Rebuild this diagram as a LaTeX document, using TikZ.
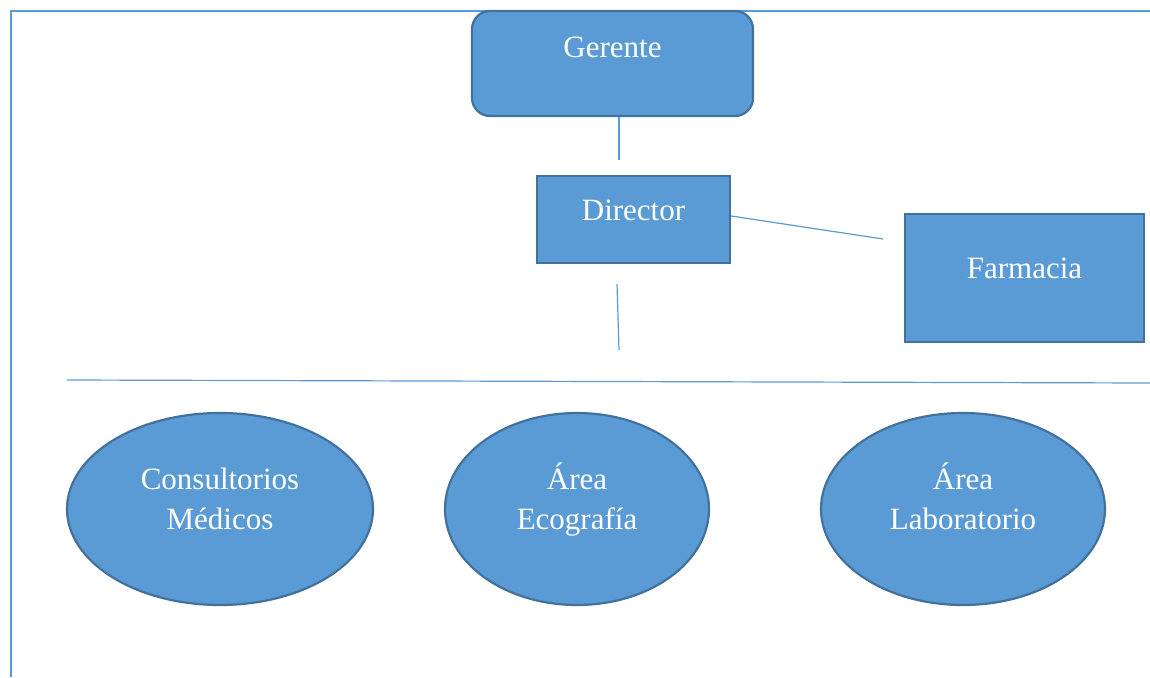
\documentclass[tikz,border=0pt]{standalone}
\usepackage{fontspec}
\setmainfont{Liberation Serif}
\usetikzlibrary{positioning, shapes.geometric, calc}
\definecolor{azul}{HTML}{5B9BD5}
\definecolor{azulOsc}{HTML}{41719C}

\begin{document}
\begin{tikzpicture}[x=1pt, y=-1pt,
    caja/.style={draw=azulOsc, fill=azul, line width=2.2pt, text=white,
                 font=\fontsize{31}{40}\selectfont, inner sep=0pt},
    area/.style={caja, ellipse, align=center, minimum height=192pt,
                 text height=61pt, text depth=21pt},
    enlace/.style={draw=azul, line width=1.2pt}
  ]
  \useasboundingbox (0,0) rectangle (1150,677);

  % marco
  \draw[azul, line width=2pt] (11,677) -- (11,11) -- (1150,11);

  % jefes
  \node[caja, rounded corners=18pt, minimum width=281pt, minimum height=105pt,
        text height=21pt, text depth=32pt] (gerente) at (612.5,63.5) {Gerente};
  \node[caja, minimum width=193pt, minimum height=87pt,
        text height=21pt, text depth=20pt] (director) at (633.5,219.5) {Director};
  \node[caja, minimum width=239pt, minimum height=128pt,
        text height=21pt, text depth=21pt] (farmacia) at (1024.5,278) {Farmacia};

  % areas
  \node[area, minimum width=306pt] (consultorios) at (220,509) {Consultorios\\M\'edicos};
  \node[area, minimum width=264pt] (ecografia) at (577,509) {\'Area\\Ecograf\'ia};
  \node[area, minimum width=284pt] (laboratorio) at (963,509) {\'Area\\Laboratorio};

  % enlaces
  \coordinate (bajada) at (619,350);
  \coordinate (busIzq) at (67,380);
  \coordinate (busDer) at (1150,383);
  \draw[enlace] ([xshift=6.5pt]gerente.south) -- ($(director.north)+(-14.5,-15)$);
  \draw[enlace] ($(director.east)+(0,-3.5)$) -- ($(farmacia.west)+(-21,-39)$);
  \draw[enlace] ($(director.south)+(-16.5,20)$) -- (bajada);
  \draw[enlace] (busIzq) -- (busDer);
\end{tikzpicture}
\end{document}
